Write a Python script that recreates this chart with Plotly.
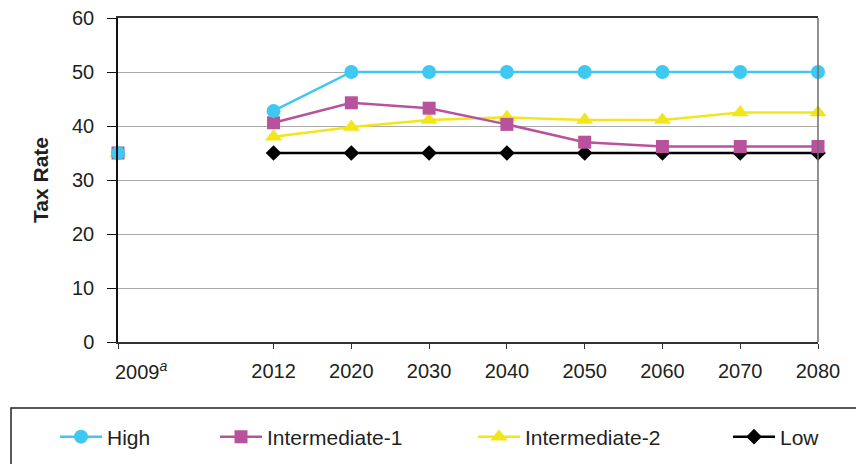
import plotly.graph_objects as go

# ---- data ----
categories = ["2009", " ", "2012", "2020", "2030", "2040", "2050", "2060", "2070", "2080"]
tick_labels = ["", "2012", "2020", "2030", "2040", "2050", "2060", "2070", "2080"]
first_label = "2009<sup><i>a</i></sup>"

high = [35, None, 42.8, 50, 50, 50, 50, 50, 50, 50]
intermediate_1 = [35, None, 40.6, 44.3, 43.3, 40.3, 37.0, 36.2, 36.2, 36.2]
intermediate_2 = [35, None, 38.0, 39.8, 41.1, 41.6, 41.1, 41.1, 42.5, 42.5]
low = [None, None, 35, 35, 35, 35, 35, 35, 35, 35]

series_names = ["High", "Intermediate-1", "Intermediate-2", "Low"]
y_title = "Tax Rate"

FONT = "Liberation Sans, Arial, sans-serif"
TXT = "#231f20"

W, H = 864, 464
OFF = 8  # page body margin
# plot area in page pixels: x 118..818, y 18..342
L, T = 118 - OFF, 18 - OFF
R = W - (818 - OFF)
B = H - (342 - OFF)
PW, PH = W - L - R, H - T - B


def px_x(p):
    return (p - OFF - L) / PW


def px_y(p):
    return (H - B - (p - OFF)) / PH


styles = {
    "High": dict(color="#3ec8f2", symbol="circle", size=14, legend="legend"),
    "Intermediate-1": dict(color="#b9529d", symbol="square", size=13, legend="legend2"),
    "Intermediate-2": dict(color="#f2e61b", symbol="triangle-up", size=15, legend="legend3"),
    "Low": dict(color="#000000", symbol="diamond", size=12, legend="legend4"),
}
values = {"High": high, "Intermediate-1": intermediate_1,
          "Intermediate-2": intermediate_2, "Low": low}

fig = go.Figure()
for name in ["Low", "Intermediate-2", "Intermediate-1", "High"]:
    s = styles[name]
    fig.add_trace(go.Scatter(
        x=categories, y=values[name], name=name, mode="lines+markers",
        line=dict(color=s["color"], width=2.5),
        marker=dict(color=s["color"], symbol=s["symbol"], size=s["size"]),
        connectgaps=False, cliponaxis=False, legend=s["legend"],
    ))

tick_vals = [c for c in categories if c.strip()]

fig.update_layout(
    width=W, height=H,
    margin=dict(l=L, r=R, t=T, b=B, autoexpand=False),
    paper_bgcolor="white", plot_bgcolor="white",
    font=dict(family=FONT, size=20, color=TXT),
    showlegend=True,
    xaxis=dict(
        type="category", categoryorder="array", categoryarray=categories,
        range=[0, len(categories) - 1],
        tickmode="array", tickvals=tick_vals, ticktext=tick_labels,
        ticks="outside", ticklen=5, tickcolor="#333", tickwidth=1,
        showline=True, linecolor="#333", linewidth=1.5, mirror=True,
        showgrid=False, zeroline=False,
        tickfont=dict(size=20, color=TXT),
        ticklabelstandoff=5,
        ticklabeloverflow="allow",
    ),
    yaxis=dict(
        range=[0, 60], dtick=10, tick0=0,
        ticks="outside", ticklen=9, tickcolor="#111", tickwidth=1,
        showline=True, linecolor="#111", linewidth=1.5,
        showgrid=True, gridcolor="#a9a9a9", gridwidth=1,
        zeroline=False,
        tickfont=dict(size=20, color=TXT),
        ticklabelstandoff=9,
        ticklabeloverflow="allow",
        title=dict(text="<b>" + y_title + "</b>", font=dict(size=21, color=TXT), standoff=18),
    ),
)

# individual legends so the entries sit where the reference puts them
legend_text_starts = {"legend": 107, "legend2": 267, "legend3": 525, "legend4": 780}
for key, xs in legend_text_starts.items():
    fig.update_layout(**{key: dict(
        orientation="h", x=px_x(xs - 52), xanchor="left",
        y=px_y(437), yanchor="middle",
        font=dict(size=21, color=TXT, family=FONT),
        bgcolor="rgba(0,0,0,0)", borderwidth=0, itemwidth=42,
    )})

# legend box and right frame
fig.add_shape(type="rect", xref="paper", yref="paper",
              x0=px_x(11), x1=px_x(890), y0=px_y(408), y1=px_y(490),
              line=dict(color="#222", width=1.5), fillcolor="rgba(0,0,0,0)")
fig.add_shape(type="line", xref="paper", yref="paper",
              x0=1, x1=1, y0=0, y1=1, line=dict(color="#6e6e6e", width=1.5))

fig.add_annotation(x=categories.index("2009"), y=0, xref="x", yref="paper",
                   text=first_label, showarrow=False,
                   xanchor="left", yanchor="top", xshift=-5, yshift=-14,
                   font=dict(size=20, color=TXT, family=FONT))

fig.write_html("out.html")
